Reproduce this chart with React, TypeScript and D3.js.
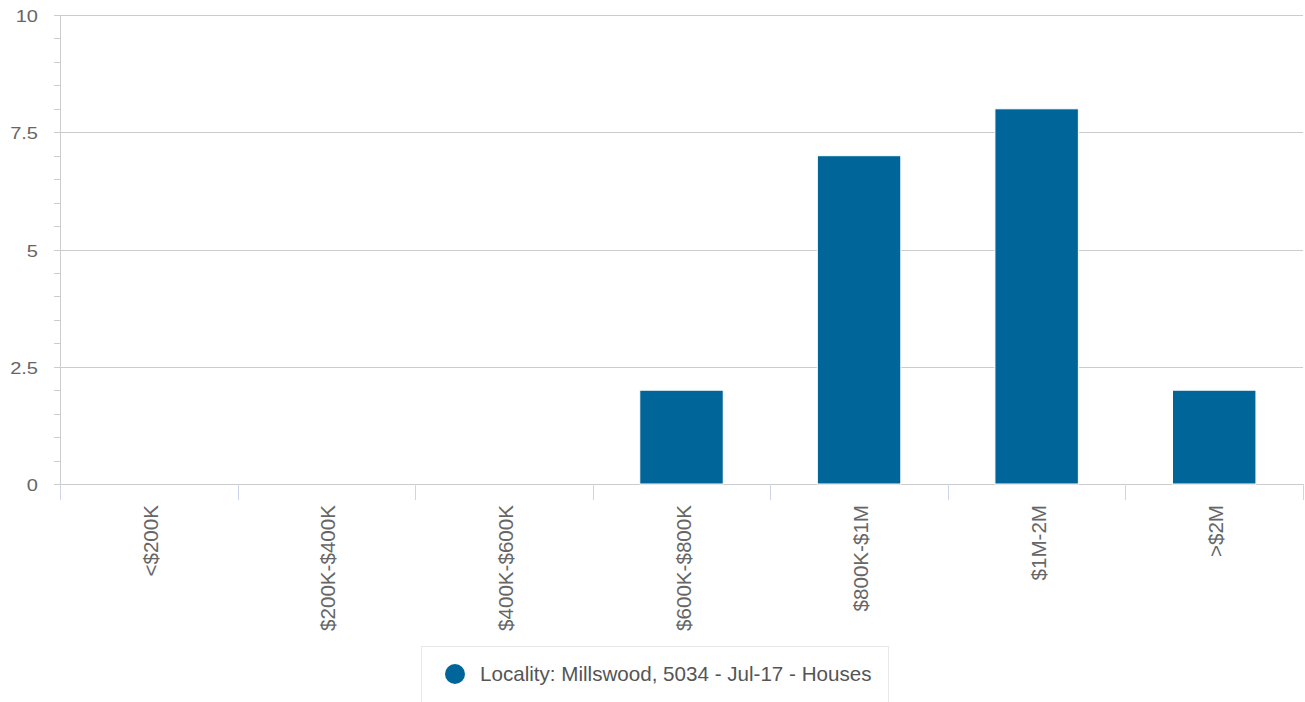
import React from "react";
import * as d3 from "d3";

const categories = ["<$200K", "$200K-$400K", "$400K-$600K", "$600K-$800K", "$800K-$1M", "$1M-2M", ">$2M"];
const values = [0, 0, 0, 2, 7, 8, 2];
const yTicks = [0, 2.5, 5, 7.5, 10];
const seriesName = "Locality: Millswood, 5034 - Jul-17 - Houses";

const W = 1305, H = 702;
const left = 60, right = 1303, top = 15, bottom = 484;
const font = "'Liberation Sans', Arial, Helvetica, sans-serif";

export default function App() {
  const x = d3.scaleBand<string>().domain(categories).range([left, right]).paddingInner(0).paddingOuter(0);
  const y = d3.scaleLinear().domain([0, 10]).range([bottom, top]);
  const minor = d3.range(0, 10.001, 0.5);
  const bw = x.bandwidth() * 0.47;
  const boundaries = categories.map((c) => x(c)!).concat([right]);
  return (
    <svg width={W} height={H} style={{ position: "absolute", left: 0, top: 0, background: "#fff" }} fontFamily={font}>
      {yTicks.map((t) => (
        <line key={"g" + t} x1={left} x2={right} y1={Math.round(y(t)) + 0.5} y2={Math.round(y(t)) + 0.5} stroke="#cccccc" strokeWidth={1} />
      ))}
      <line x1={left + 0.5} x2={left + 0.5} y1={top} y2={bottom} stroke="#cccccc" />
      {minor.map((t) => (
        <line key={"m" + t} x1={54} x2={left} y1={Math.round(y(t)) + 0.5} y2={Math.round(y(t)) + 0.5} stroke="#cccccc" />
      ))}
      {yTicks.map((t) => (
        <text key={"yl" + t} transform={`translate(38,${y(t) + 7}) scale(1.18,1)`} textAnchor="end" fontSize={17} fill="#666666">{t}</text>
      ))}
      {boundaries.map((b, i) => (
        <line key={"xt" + i} x1={Math.round(b) + 0.5} x2={Math.round(b) + 0.5} y1={bottom} y2={bottom + 16} stroke="#ccd6eb" />
      ))}
      {categories.map((c, i) => (
        values[i] > 0 ? (
          <rect key={"b" + c} x={x(c)! + x.bandwidth() / 2 - bw / 2} y={y(values[i])} width={bw} height={bottom - y(values[i])} fill="#006699" stroke="#ffffff" strokeWidth={1} />
        ) : null
      ))}
      {categories.map((c) => {
        const cx = x(c)! + x.bandwidth() / 2 + 9;
        const cy = bottom + 21;
        return (
          <text key={"xl" + c} transform={`translate(${cx},${cy}) rotate(-90)`} textAnchor="end" fontSize={20.6} fill="#666666">{c}</text>
        );
      })}
      <rect x={421.5} y={646.5} width={467} height={60} fill="#fff" stroke="#e8e8e8" />
      <circle cx={455} cy={674} r={10} fill="#006699" />
      <text x={480} y={681} fontSize={20.6} fill="#555555">{seriesName}</text>
    </svg>
  );
}
